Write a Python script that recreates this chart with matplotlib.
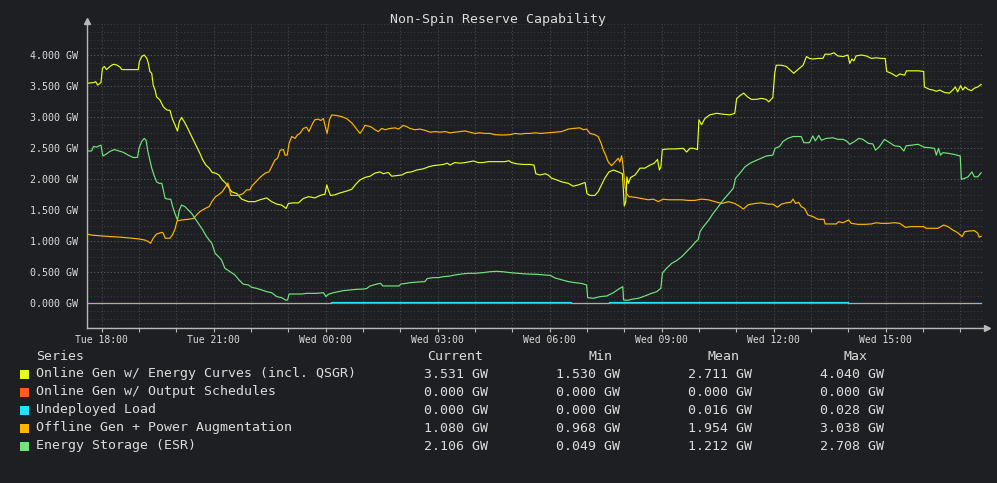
import matplotlib.pyplot as plt
from matplotlib.patches import Rectangle
from matplotlib.ticker import MultipleLocator, FixedLocator

# hours relative to Tue 18:00, values in GW
yellow_t = [-0.40, -0.22, -0.16, -0.11, -0.02, 0.02, 0.07, 0.13, 0.22, 0.31, 0.40, 0.49, 0.54, 0.71, 0.98,
            1.01, 1.07, 1.14, 1.21, 1.25, 1.29, 1.34, 1.38, 1.43, 1.47, 1.56, 1.65, 1.74, 1.83, 1.89, 1.96,
            2.03, 2.08, 2.14, 2.21, 2.28, 2.37, 2.46, 2.54, 2.63, 2.70, 2.79, 2.88, 2.96, 3.05, 3.14, 3.23,
            3.32, 3.39, 3.48, 3.62, 3.75, 3.93, 4.11, 4.24, 4.42, 4.55, 4.69, 4.82, 4.94, 5.00, 5.13, 5.27,
            5.40, 5.54, 5.71, 5.85, 5.98, 6.03, 6.07, 6.13, 6.25, 6.38, 6.56, 6.70, 6.79, 6.92, 7.05, 7.19,
            7.32, 7.46, 7.54, 7.68, 7.77, 7.90, 8.04, 8.17, 8.30, 8.44, 8.62, 8.75, 8.88, 9.02, 9.15, 9.26,
            9.33, 9.46, 9.60, 9.73, 9.87, 9.96, 10.09, 10.22, 10.36, 10.49, 10.67, 10.80, 10.91, 10.98,
            11.12, 11.29, 11.47, 11.58, 11.63, 11.74, 11.88, 11.96, 12.05, 12.19, 12.32, 12.50, 12.63,
            12.77, 12.95, 13.00, 13.08, 13.21, 13.30, 13.39, 13.48, 13.59, 13.71, 13.84, 13.95, 13.97,
            14.00, 14.04, 14.07, 14.11, 14.17, 14.29, 14.42, 14.55, 14.69, 14.80, 14.89, 14.94, 14.98,
            15.02, 15.18, 15.36, 15.58, 15.67, 15.76, 15.85, 15.96, 16.00, 16.07, 16.16, 16.29, 16.47,
            16.65, 16.83, 16.96, 17.01, 17.10, 17.20, 17.30, 17.40, 17.55, 17.67, 17.80, 17.87, 17.98,
            18.03, 18.07, 18.21, 18.34, 18.47, 18.54, 18.65, 18.79, 18.88, 18.96, 19.05, 19.19, 19.32,
            19.38, 19.50, 19.62, 19.72, 19.86, 19.99, 20.04, 20.10, 20.15, 20.21, 20.35, 20.48, 20.62,
            20.75, 20.88, 20.99, 21.03, 21.15, 21.29, 21.38, 21.51, 21.56, 21.69, 21.87, 22.02, 22.04,
            22.18, 22.27, 22.36, 22.45, 22.58, 22.71, 22.80, 22.87, 22.93, 23.01, 23.07, 23.13, 23.21,
            23.30, 23.38, 23.47, 23.56]
yellow_v = [3.548, 3.56, 3.575, 3.52, 3.56, 3.79, 3.82, 3.77, 3.82, 3.855, 3.845, 3.81, 3.77, 3.77, 3.77,
            3.90, 3.98, 4.005, 3.95, 3.87, 3.74, 3.71, 3.52, 3.44, 3.33, 3.28, 3.17, 3.12, 3.11, 2.98, 2.88,
            2.78, 2.93, 3.00, 2.93, 2.85, 2.74, 2.63, 2.53, 2.42, 2.32, 2.23, 2.18, 2.11, 2.10, 2.07, 1.99,
            1.94, 1.88, 1.80, 1.77, 1.68, 1.64, 1.64, 1.67, 1.70, 1.64, 1.60, 1.585, 1.53, 1.61, 1.62, 1.62,
            1.69, 1.72, 1.70, 1.74, 1.76, 1.91, 1.83, 1.74, 1.75, 1.78, 1.81, 1.84, 1.91, 1.99, 2.03, 2.05,
            2.10, 2.12, 2.09, 2.11, 2.05, 2.06, 2.07, 2.11, 2.12, 2.15, 2.17, 2.20, 2.22, 2.23, 2.24, 2.26,
            2.23, 2.27, 2.26, 2.27, 2.285, 2.295, 2.27, 2.27, 2.285, 2.285, 2.285, 2.285, 2.30, 2.27,
            2.25, 2.24, 2.24, 2.23, 2.09, 2.07, 2.09, 2.07, 2.02, 1.99, 1.96, 1.935, 1.89,
            1.91, 1.95, 1.77, 1.74, 1.74, 1.80, 1.91, 2.02, 2.12, 2.15, 2.12, 2.09, 1.88,
            1.57, 1.64, 2.04, 1.935, 2.03, 2.07, 2.18, 2.18, 2.23, 2.26, 2.32, 2.15, 2.20,
            2.48, 2.49, 2.49, 2.50, 2.44, 2.50, 2.50, 2.48, 2.96, 2.88, 2.98, 3.04, 3.065,
            3.05, 3.04, 3.065, 3.30, 3.35, 3.39, 3.33, 3.29, 3.29, 3.306, 3.29, 3.25, 3.32,
            3.71, 3.84, 3.84, 3.82, 3.75, 3.71, 3.77, 3.84, 3.98, 3.95, 3.94, 3.95, 3.95,
            4.02, 4.016, 4.04, 3.99, 3.98, 4.005, 3.87, 3.94, 3.91, 3.99, 4.005, 3.99, 3.95,
            3.96, 3.95, 3.95, 3.74, 3.71, 3.66, 3.70, 3.68, 3.75, 3.75, 3.75, 3.74, 3.49,
            3.45, 3.44, 3.42, 3.44, 3.40, 3.39, 3.44, 3.49, 3.41, 3.51, 3.44, 3.49, 3.45,
            3.43, 3.47, 3.49, 3.531]

red_t = [-0.40, 23.56]
red_v = [0.0, 0.0]

cyan_t = [-0.40, 6.13, 12.57, 13.59, 19.98, 23.56]
cyan_v = [0.0, 0.028, 0.008, 0.028, 0.0, 0.0]

orange_t = [-0.40, -0.27, 0.00, 0.27, 0.54, 0.80, 0.98, 1.16, 1.25, 1.31, 1.38, 1.47, 1.61, 1.65, 1.70,
            1.83, 1.89, 1.96, 2.02, 2.14, 2.32, 2.46, 2.54, 2.63, 2.77, 2.88, 2.95, 3.05, 3.13, 3.23, 3.32,
            3.38, 3.41, 3.46, 3.66, 3.79, 3.88, 3.97, 4.02, 4.13, 4.24, 4.38, 4.48, 4.55, 4.64, 4.71, 4.78,
            4.87, 4.91, 4.97, 5.02, 5.09, 5.18, 5.24, 5.31, 5.40, 5.49, 5.55, 5.65, 5.71, 5.80, 5.87, 5.94,
            6.01, 6.04, 6.10, 6.16, 6.29, 6.43, 6.56, 6.70, 6.79, 6.88, 6.92, 7.00, 7.05, 7.14, 7.23, 7.32,
            7.41, 7.50, 7.59, 7.72, 7.86, 7.95, 8.08, 8.17, 8.26, 8.39, 8.53, 8.66, 8.80, 8.93, 9.06, 9.20,
            9.33, 9.46, 9.60, 9.73, 9.87, 10.00, 10.13, 10.27, 10.40, 10.54, 10.67, 10.80, 10.94, 11.07,
            11.21, 11.35, 11.47, 11.63, 11.76, 11.96, 12.14, 12.32, 12.50, 12.63, 12.81, 12.90, 12.99,
            13.08, 13.21, 13.30, 13.38, 13.44, 13.50, 13.57, 13.66, 13.75, 13.84, 13.88, 13.93, 13.97,
            14.02, 14.06, 14.13, 14.29, 14.46, 14.64, 14.78, 14.91, 15.04, 15.18, 15.36, 15.54, 15.71,
            15.89, 16.07, 16.25, 16.43, 16.61, 16.79, 16.96, 17.10, 17.19, 17.32, 17.50, 17.67, 17.85,
            17.98, 18.10, 18.21, 18.34, 18.46, 18.52, 18.59, 18.67, 18.74, 18.83, 18.92, 19.05, 19.19,
            19.35, 19.38, 19.54, 19.68, 19.74, 19.86, 20.01, 20.08, 20.26, 20.44, 20.62, 20.75, 20.88,
            21.06, 21.24, 21.38, 21.53, 21.69, 21.87, 22.02, 22.09, 22.27, 22.40, 22.56, 22.67, 22.80,
            22.93, 23.05, 23.12, 23.25, 23.38, 23.47, 23.51, 23.56]
orange_v = [1.118, 1.10, 1.086, 1.075, 1.065, 1.05, 1.04, 1.02, 0.995, 0.968, 1.05, 1.118, 1.145, 1.13, 1.05,
            1.05, 1.10, 1.19, 1.33, 1.344, 1.355, 1.37, 1.425, 1.48, 1.53, 1.56, 1.64, 1.72, 1.75, 1.80, 1.88,
            1.94, 1.88, 1.74, 1.74, 1.77, 1.83, 1.83, 1.89, 1.96, 2.03, 2.10, 2.12, 2.20, 2.31, 2.34, 2.47,
            2.48, 2.39, 2.39, 2.58, 2.69, 2.66, 2.715, 2.74, 2.82, 2.84, 2.77, 2.90, 2.96, 2.97, 2.95, 2.98,
            2.80, 2.74, 2.96, 3.038, 3.03, 3.01, 2.98, 2.91, 2.84, 2.77, 2.74, 2.81, 2.87, 2.86, 2.84, 2.80,
            2.77, 2.82, 2.80, 2.82, 2.83, 2.81, 2.87, 2.85, 2.82, 2.80, 2.81, 2.79, 2.76, 2.77, 2.76, 2.77,
            2.75, 2.76, 2.77, 2.78, 2.76, 2.74, 2.75, 2.74, 2.74, 2.72, 2.715, 2.715, 2.72, 2.74,
            2.73, 2.74, 2.74, 2.75, 2.74, 2.75, 2.76, 2.77, 2.81, 2.82, 2.83, 2.80, 2.81,
            2.74, 2.72, 2.69, 2.58, 2.47, 2.39, 2.28, 2.22, 2.28, 2.34, 2.28, 2.38, 2.20,
            1.88, 1.77, 1.72, 1.71, 1.69, 1.67, 1.68, 1.64, 1.68, 1.67, 1.67, 1.67, 1.66,
            1.66, 1.68, 1.67, 1.64, 1.61, 1.64, 1.61, 1.56, 1.52, 1.59, 1.61, 1.62, 1.60,
            1.60, 1.55, 1.60, 1.62, 1.63, 1.68, 1.61, 1.63, 1.56, 1.53, 1.425, 1.40, 1.355,
            1.355, 1.28, 1.28, 1.28, 1.317, 1.30, 1.344, 1.29, 1.274, 1.274, 1.28, 1.30, 1.29,
            1.29, 1.30, 1.29, 1.226, 1.237, 1.237, 1.237, 1.21, 1.21, 1.21, 1.263, 1.237, 1.183,
            1.14, 1.075, 1.156, 1.167, 1.172, 1.13, 1.065, 1.08]

green_t = [-0.40, -0.27, -0.22, -0.13, -0.07, -0.02, 0.03, 0.13, 0.22, 0.34, 0.45, 0.58, 0.71, 0.85, 0.96,
           1.00, 1.07, 1.14, 1.19, 1.23, 1.28, 1.34, 1.40, 1.47, 1.54, 1.61, 1.65, 1.70, 1.79, 1.85, 1.89,
           1.96, 2.03, 2.08, 2.14, 2.23, 2.32, 2.41, 2.50, 2.59, 2.70, 2.81, 2.95, 3.04, 3.13, 3.21, 3.30,
           3.44, 3.57, 3.68, 3.79, 3.93, 4.02, 4.15, 4.29, 4.42, 4.55, 4.69, 4.82, 4.94, 4.98, 5.02, 5.18,
           5.36, 5.49, 5.76, 5.94, 6.01, 6.07, 6.21, 6.34, 6.47, 6.65, 6.83, 7.01, 7.10, 7.19, 7.37, 7.47,
           7.53, 7.72, 7.97, 8.01, 8.17, 8.26, 8.48, 8.66, 8.72, 8.88, 9.02, 9.15, 9.33, 9.46, 9.64, 9.82,
           10.00, 10.22, 10.40, 10.58, 10.74, 10.94, 11.16, 11.38, 11.65, 11.88, 12.02, 12.14, 12.32,
           12.50, 12.68, 12.86, 12.99, 13.02, 13.17, 13.35, 13.53, 13.71, 13.88, 13.96, 13.98, 14.09,
           14.20, 14.38, 14.55, 14.73, 14.87, 14.98, 15.02, 15.13, 15.27, 15.40, 15.54, 15.67, 15.80,
           15.89, 15.98, 16.03, 16.12, 16.25, 16.38, 16.52, 16.65, 16.79, 16.92, 16.98, 17.10, 17.23,
           17.37, 17.50, 17.67, 17.80, 17.98, 18.04, 18.16, 18.25, 18.38, 18.52, 18.74, 18.81, 18.96,
           19.05, 19.12, 19.21, 19.28, 19.41, 19.59, 19.72, 19.86, 19.95, 20.04, 20.17, 20.28, 20.39,
           20.54, 20.66, 20.73, 20.84, 20.97, 21.11, 21.24, 21.38, 21.49, 21.55, 21.69, 21.87, 22.04,
           22.18, 22.31, 22.36, 22.42, 22.47, 22.54, 22.67, 22.85, 23.00, 23.03, 23.12, 23.21, 23.31,
           23.38, 23.47, 23.56]
green_v = [2.457, 2.457, 2.53, 2.52, 2.54, 2.55, 2.376, 2.41, 2.45, 2.48, 2.46, 2.435, 2.39, 2.35, 2.355,
           2.50, 2.61, 2.66, 2.63, 2.47, 2.34, 2.18, 2.07, 1.96, 1.935, 1.935, 1.83, 1.69, 1.68, 1.68, 1.585,
           1.45, 1.344, 1.505, 1.585, 1.56, 1.505, 1.45, 1.37, 1.29, 1.19, 1.075, 0.968, 0.806, 0.753, 0.70,
           0.565, 0.51, 0.457, 0.376, 0.31, 0.296, 0.258, 0.242, 0.215, 0.188, 0.172, 0.108, 0.091, 0.049,
           0.054, 0.15, 0.15, 0.15, 0.161, 0.161, 0.172, 0.108, 0.145, 0.172, 0.188, 0.204, 0.215, 0.226,
           0.23, 0.24, 0.28, 0.31, 0.323, 0.28, 0.28, 0.28, 0.31, 0.323, 0.333, 0.344, 0.35, 0.40, 0.414,
           0.414, 0.43, 0.44, 0.457, 0.473, 0.484, 0.484, 0.495, 0.51, 0.516, 0.51, 0.495, 0.484, 0.473,
           0.468, 0.457, 0.45, 0.41, 0.38, 0.35, 0.333, 0.32, 0.296, 0.091, 0.081, 0.108, 0.118, 0.172,
           0.242, 0.269, 0.054, 0.049, 0.065, 0.081, 0.118, 0.161, 0.188, 0.242, 0.484, 0.565, 0.645,
           0.688, 0.753, 0.833, 0.914, 0.978, 1.03, 1.156, 1.237, 1.333, 1.45, 1.56, 1.667, 1.763, 1.855,
           2.016, 2.10, 2.20, 2.26, 2.296, 2.34, 2.376, 2.39, 2.50, 2.53, 2.61, 2.66, 2.69, 2.69, 2.59,
           2.59, 2.70, 2.62, 2.708, 2.63, 2.66, 2.67, 2.645, 2.645, 2.62, 2.565, 2.61, 2.66, 2.645,
           2.58, 2.57, 2.47, 2.53, 2.645, 2.59, 2.54, 2.53, 2.457, 2.54, 2.55, 2.565, 2.516,
           2.51, 2.50, 2.39, 2.50, 2.39, 2.43, 2.42, 2.40, 2.376, 2.00, 2.016, 2.04, 2.12,
           2.04, 2.04, 2.106]

series_names = ["Online Gen w/ Energy Curves (incl. QSGR)", "Online Gen w/ Output Schedules",
                "Undeployed Load", "Offline Gen + Power Augmentation", "Energy Storage (ESR)"]
series_colors = ["#e4ff1c", "#ff5a1f", "#1fe3ff", "#ffb700", "#6ee77c"]
stat_current = [3.531, 0.000, 0.000, 1.080, 2.106]
stat_min = [1.530, 0.000, 0.000, 0.968, 0.049]
stat_mean = [2.711, 0.000, 0.016, 1.954, 1.212]
stat_max = [4.040, 0.000, 0.028, 3.038, 2.708]

x_ticks = [0, 3, 6, 9, 12, 15, 18, 21]
x_labels = ["Tue 18:00", "Tue 21:00", "Wed 00:00", "Wed 03:00", "Wed 06:00", "Wed 09:00", "Wed 12:00", "Wed 15:00"]

BG = "#1e1f22"
AXC = "#b8b8b8"
TXT = "#dcdcdc"
W, H = 997, 483

plt.rcParams['font.family'] = ['DejaVu Sans Mono']

fig = plt.figure(figsize=(W / 100, H / 100), dpi=100, facecolor=BG)
ax = fig.add_axes([86.7 / W, 1 - 328 / H, (983 - 86.7) / W, (328 - 24) / H])
ax.set_facecolor(BG)
ax.set_xlim(-0.402, 23.61)
ax.set_ylim(-0.398, 4.505)

# grid
ax.yaxis.set_major_locator(FixedLocator([0, 0.5, 1, 1.5, 2, 2.5, 3, 3.5, 4]))
ax.yaxis.set_minor_locator(MultipleLocator(0.125))
ax.xaxis.set_major_locator(FixedLocator(x_ticks))
ax.xaxis.set_minor_locator(FixedLocator(list(range(0, 24))))
ax.grid(which='major', axis='y', color='#5e5e5e', linestyle=(0, (1, 2)), linewidth=0.8)
ax.grid(which='minor', axis='y', color='#3a3b3e', linestyle=(0, (1, 2)), linewidth=0.8)
ax.grid(which='both', axis='x', color='#4a4b4e', linestyle=(0, (1, 2)), linewidth=0.8)
ax.set_axisbelow(True)

ax.set_yticklabels([f"{v:.3f} GW" for v in [0, 0.5, 1, 1.5, 2, 2.5, 3, 3.5, 4]])
ax.set_xticklabels(x_labels)
ax.tick_params(axis='y', which='both', length=0, pad=6, labelsize=7.2, labelcolor=TXT)
ax.tick_params(axis='x', which='major', length=3, pad=2, labelsize=7.0, labelcolor=TXT, color=AXC, width=0.8)
ax.tick_params(axis='x', which='minor', length=3, color=AXC, width=0.8)

for s in ['top', 'right']:
    ax.spines[s].set_visible(False)
for s in ['left', 'bottom']:
    ax.spines[s].set_color(AXC)
    ax.spines[s].set_linewidth(1.0)
ax.plot([1.004], [0], marker='>', markersize=4, color=AXC, transform=ax.transAxes, clip_on=False)
ax.plot([0], [1.01], marker='^', markersize=4, color=AXC, transform=ax.transAxes, clip_on=False)

# series
lw = 0.85
ax.plot(yellow_t, yellow_v, color=series_colors[0], lw=lw)
ax.plot(red_t, red_v, color=series_colors[1], lw=lw)
ax.step(cyan_t, cyan_v, where='post', color=series_colors[2], lw=lw)
ax.plot(orange_t, orange_v, color=series_colors[3], lw=lw)
ax.plot(green_t, green_v, color=series_colors[4], lw=lw)

fig.text(497.5 / W, 1 - 19 / H, "Non-Spin Reserve Capability", ha='center', va='center',
         fontsize=9.5, color=TXT)

# legend table
def fy(py):
    return 1 - py / H

fig.text(36 / W, fy(356), "Series", ha='left', va='center', fontsize=9.5, color=TXT)
headers = [("Current", 455.5), ("Min", 600), ("Mean", 723.5), ("Max", 855.5)]
for name, cx in headers:
    fig.text(cx / W, fy(356), name, ha='center', va='center', fontsize=9.5, color=TXT)

value_right = [488, 620, 752, 884]
for i, name in enumerate(series_names):
    yy = 374 + i * 18
    fig.patches.append(Rectangle((20 / W, fy(yy + 4.5)), 9 / W, 9 / H, transform=fig.transFigure,
                                 facecolor=series_colors[i], edgecolor='none'))
    fig.text(36 / W, fy(yy), name, ha='left', va='center', fontsize=9.5, color=TXT)
    stats = [stat_current[i], stat_min[i], stat_mean[i], stat_max[i]]
    for val, xr in zip(stats, value_right):
        fig.text(xr / W, fy(yy), f"{val:.3f} GW", ha='right', va='center', fontsize=9.5, color=TXT)

fig.savefig("out.png", dpi=100, facecolor=BG)
